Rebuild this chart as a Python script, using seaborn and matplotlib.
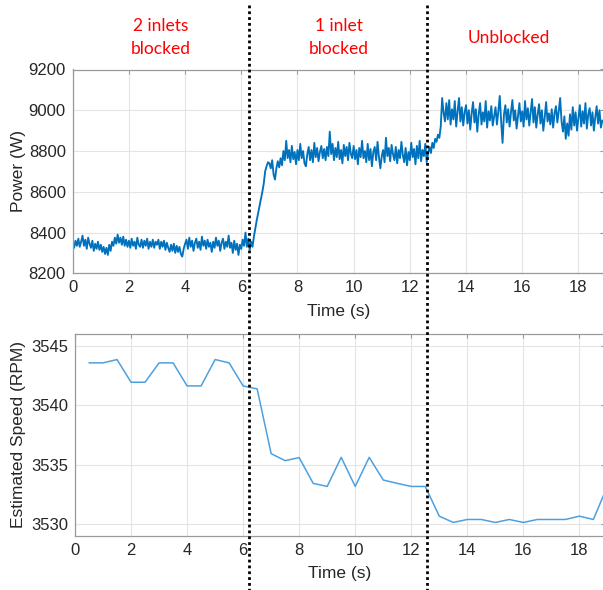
import numpy as np
import pandas as pd
import matplotlib
matplotlib.use("Agg")
import matplotlib.pyplot as plt
import matplotlib.transforms as mtransforms
from matplotlib.lines import Line2D
import seaborn as sns

# ---------------- data ----------------
power_dt = 0.05  # s between power samples
power_w = [
    8345, 8325, 8360, 8335, 8370, 8330, 8355, 8385, 8335, 8365, 8320, 8375, 8345, 8325, 8360, 8310, 8345, 8320, 8355, 8315,
    8340, 8305, 8330, 8295, 8325, 8290, 8340, 8310, 8355, 8335, 8375, 8345, 8390, 8350, 8375, 8340, 8380, 8335, 8365, 8330,
    8360, 8325, 8370, 8335, 8355, 8320, 8375, 8340, 8330, 8365, 8325, 8360, 8335, 8370, 8320, 8355, 8330, 8365, 8325, 8355,
    8340, 8365, 8320, 8355, 8330, 8360, 8315, 8350, 8325, 8305, 8340, 8310, 8345, 8300, 8335, 8305, 8330, 8295, 8282, 8320,
    8345, 8365, 8320, 8375, 8330, 8360, 8310, 8350, 8370, 8325, 8355, 8315, 8380, 8335, 8360, 8320, 8365, 8330, 8350, 8305,
    8355, 8325, 8375, 8335, 8360, 8310, 8350, 8370, 8320, 8355, 8330, 8385, 8325, 8350, 8300, 8360, 8315, 8345, 8290, 8340,
    8320, 8365, 8335, 8400, 8330, 8370, 8315, 8355, 8330, 8380, 8420, 8460, 8495, 8530, 8565, 8600, 8640, 8700, 8725, 8745,
    8740, 8715, 8755, 8685, 8660, 8715, 8750, 8720, 8765, 8730, 8800, 8755, 8850, 8765, 8805, 8745, 8825, 8760, 8795, 8735,
    8805, 8755, 8835, 8765, 8800, 8740, 8725, 8785, 8820, 8755, 8805, 8745, 8840, 8770, 8815, 8750, 8795, 8825, 8765, 8810,
    8755, 8820, 8775, 8895, 8785, 8835, 8755, 8815, 8770, 8845, 8760, 8805, 8740, 8830, 8775, 8820, 8755, 8840, 8785, 8765,
    8825, 8760, 8805, 8735, 8815, 8770, 8850, 8765, 8800, 8745, 8835, 8755, 8810, 8725, 8795, 8820, 8755, 8845, 8770, 8715,
    8775, 8805, 8745, 8865, 8775, 8815, 8750, 8830, 8785, 8755, 8820, 8740, 8805, 8765, 8845, 8780, 8745, 8815, 8730, 8795,
    8755, 8840, 8770, 8810, 8735, 8825, 8765, 8850, 8750, 8805, 8775, 8835, 8745, 8790, 8820, 8790, 8840, 8815, 8860, 8845,
    8880, 8865, 8920, 9060, 8990, 8945, 9035, 8955, 9050, 8930, 9005, 8955, 9045, 8920, 8995, 9060, 8945, 9015, 8925, 8990,
    9025, 8935, 9000, 8905, 8985, 9040, 8940, 9005, 8895, 8980, 9035, 8930, 8990, 8945, 9045, 8915, 8995, 8950, 9020, 8925,
    8970, 9015, 8930, 8995, 9070, 8945, 8840, 8980, 9025, 8940, 9005, 8920, 8990, 9050, 8950, 9000, 8910, 8975, 9035, 8945,
    8995, 8920, 9045, 8955, 9010, 8925, 8990, 9055, 8940, 9015, 8915, 8980, 9030, 8935, 9000, 8900, 8965, 9040, 8945, 8985,
    8930, 9005, 8915, 8985, 9020, 8940, 8995, 9060, 8945, 8895, 8970, 8860, 8935, 8875, 8980, 8905, 9015, 8925, 8990, 8900,
    8965, 9025, 8920, 8995, 8935, 9035, 8910, 8980, 9010, 8925, 8990, 8900, 8965, 9020, 8935, 9000, 8915, 8950,
]
power_t = np.arange(len(power_w)) * power_dt

speed_t = [0.5, 1.0, 1.5, 2.0, 2.5, 3.0, 3.5, 4.0, 4.5, 5.0, 5.5, 6.0, 6.5, 7.0, 7.5, 8.0,
           8.5, 9.0, 9.5, 10.0, 10.5, 11.0, 11.5, 12.0, 12.5, 13.0, 13.5, 14.0, 14.5, 15.0,
           15.5, 16.0, 16.5, 17.0, 17.5, 18.0, 18.5, 19.0]
speed_rpm = [3543.57, 3543.57, 3543.85, 3541.94, 3541.94, 3543.57, 3543.57, 3541.63, 3541.63, 3543.85,
             3543.57, 3541.63, 3541.38, 3535.93, 3535.34, 3535.60, 3533.43, 3533.17, 3535.62, 3533.17,
             3535.62, 3533.71, 3533.43, 3533.17, 3533.17, 3530.67, 3530.14, 3530.39, 3530.39, 3530.14,
             3530.39, 3530.14, 3530.39, 3530.39, 3530.39, 3530.67, 3530.39, 3533.20]

event_times = [6.28, 12.62]
phase_labels = [["2 inlets", "blocked"], ["1 inlet", "blocked"], ["Unblocked"]]

power_ticks_y = [8200, 8400, 8600, 8800, 9000, 9200]
speed_ticks_y = [3530, 3535, 3540, 3545]
time_ticks = [0, 2, 4, 6, 8, 10, 12, 14, 16, 18]

# ---------------- style ----------------
sns.set_style("white")
plt.rcParams["font.family"] = ["Liberation Sans", "DejaVu Sans"]

W, H = 603, 590
fig = plt.figure(figsize=(W / 100, H / 100), dpi=100)

ax1 = fig.add_axes([72.7 / W, (H - 273.3) / H, 531 / W, 203.8 / H])
ax2 = fig.add_axes([75.0 / W, (H - 536.0) / H, 529.6 / W, 202.0 / H])

df_p = pd.DataFrame({"t": power_t, "p": power_w})
df_s = pd.DataFrame({"t": speed_t, "s": speed_rpm})

sns.lineplot(data=df_p, x="t", y="p", ax=ax1, color="#0072BD", linewidth=1.35)
sns.lineplot(data=df_s, x="t", y="s", ax=ax2, color="#4DA0E0", linewidth=1.1)

tick_color = "#262626"
spine_color = "#9a9a9a"
for ax in (ax1, ax2):
    ax.set_xlim(0, 18.9)
    ax.set_xticks(time_ticks)
    ax.grid(True, color="#e4e4e4", linewidth=0.8)
    ax.set_axisbelow(True)
    for sp in ax.spines.values():
        sp.set_color(spine_color)
        sp.set_linewidth(0.9)
    ax.tick_params(direction="in", length=3, width=0.8, color=spine_color,
                   labelsize=12, labelcolor=tick_color, top=True, right=True, pad=5)
    ax.set_xlabel("Time (s)", fontsize=12.5, color=tick_color)

ax1.set_ylim(8200, 9200)
ax1.set_yticks(power_ticks_y)
ax1.set_ylabel("Power (W)", fontsize=12.5, color=tick_color)
ax1.yaxis.set_label_coords(-0.088, 0.5)
ax1.xaxis.set_label_coords(0.5, -0.15)

ax2.set_ylim(3529.0, 3546.0)
ax2.set_yticks(speed_ticks_y)
ax2.set_ylabel("Estimated Speed (RPM)", fontsize=12.5, color=tick_color)
ax2.yaxis.set_label_coords(-0.093, 0.5)
ax2.xaxis.set_label_coords(0.5, -0.149)

# dotted vertical event lines across the whole figure
trans = mtransforms.blended_transform_factory(ax1.transData, fig.transFigure)
for et in event_times:
    fig.add_artist(Line2D([et, et], [1 - 5 / H, 0], transform=trans,
                          color="black", linestyle=(0, (1, 1.1)), linewidth=2.0))

# red phase annotations
label_x = [161, 339, 509]
for lines, xc in zip(phase_labels, label_x):
    if len(lines) == 2:
        baselines = [30.7, 54.3]
    else:
        baselines = [43.3]
    for txt, yb in zip(lines, baselines):
        fig.text(xc / W, 1 - yb / H, txt, ha="center", va="baseline",
                 fontsize=12.5, color="#FF0000", family=["Lato", "DejaVu Sans"])

fig.savefig("out.png", dpi=100)
